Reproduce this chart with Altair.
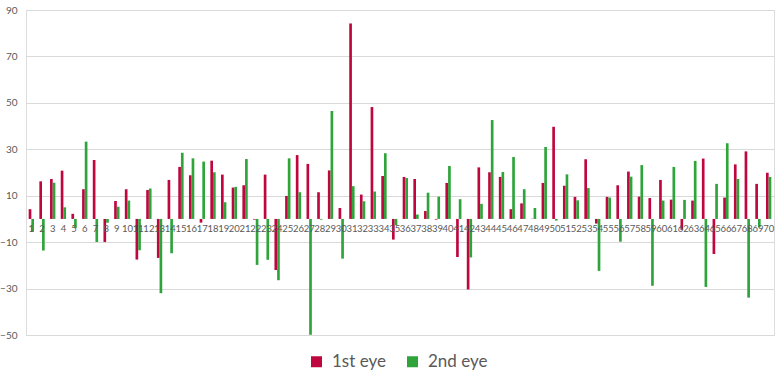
import altair as alt
import pandas as pd

categories = [str(i) for i in range(1, 71)]
series_names = ["1st eye", "2nd eye"]

first_eye = [4.2, 16.2, 17.2, 20.8, 2.2, 12.8, 25.4, -9.9, 7.7, 12.8,
             -17.5, 12.5, -16.8, 16.8, 22.4, 18.8, -1.6, 25.1, 19.1, 13.5,
             14.5, -0.3, 19.1, -22.0, 9.9, 27.5, 23.7, 11.5, 20.9, 4.7,
             84.2, 10.5, 48.2, 18.5, -8.9, 18.1, 17.2, 3.4, -0.3, 15.5,
             -16.4, -30.4, 22.2, 20.1, 18.1, 4.2, 6.7, 0.1, 15.5, 39.7,
             14.3, 9.5, 25.7, -2.0, 9.5, 14.5, 20.4, 9.6, 9.0, 16.8,
             8.3, -4.7, 7.9, 26.0, -15.1, 9.2, 23.5, 29.1, 15.1, 19.9]

second_eye = [-5.5, -13.6, 15.6, 5.0, -3.9, 33.3, -9.9, -1.6, 5.3, 7.9,
              -13.5, 13.1, -32.0, -14.8, 28.5, 26.1, 24.7, 20.1, 7.2, 13.8,
              25.8, -19.8, -17.6, -26.4, 26.1, 11.5, -49.9, -0.3, 46.5, -17.1,
              14.1, 7.6, 11.8, 28.3, -2.7, 17.6, 1.9, 11.3, 9.6, 22.8,
              8.5, -16.6, 6.5, 42.6, 20.2, 26.7, 12.8, 4.7, 31.0, -0.7,
              19.2, 8.0, 13.3, -22.4, 9.2, -9.8, 18.2, 23.2, -28.8, 7.9,
              22.4, 8.2, 25.0, -29.3, 15.1, 32.6, 17.2, -33.9, -3.6, 18.1]

y_ticks = [-50, -30, -10, 10, 30, 50, 70, 90]
colors = ["#C0063F", "#2EA43A"]

rows = []
for c, a, b in zip(categories, first_eye, second_eye):
    rows.append({"cat": c, "series": series_names[0], "value": a})
    rows.append({"cat": c, "series": series_names[1], "value": b})
df = pd.DataFrame(rows)
labels_df = pd.DataFrame({"cat": categories})

FONT = "Lato"

x_enc = alt.X("cat:N", sort=categories, axis=None,
              scale=alt.Scale(paddingInner=0.5, paddingOuter=0.25))
y_scale = alt.Scale(domain=[-50, 90], nice=False, zero=False)

bars = alt.Chart(df).mark_bar().encode(
    x=x_enc,
    xOffset=alt.XOffset("series:N", sort=series_names),
    y=alt.Y("value:Q", scale=y_scale, title=None,
            axis=alt.Axis(values=y_ticks, domain=False, ticks=False,
                          labelColor="#595959", labelFontSize=10,
                          labelFont=FONT, labelPadding=9,
                          gridColor="#D9D9D9", gridWidth=1)),
    color=alt.Color("series:N", sort=series_names,
                    scale=alt.Scale(domain=series_names, range=colors),
                    legend=alt.Legend(title=None, orient="none",
                                      direction="horizontal",
                                      legendX=282, legendY=343,
                                      symbolType="square", symbolSize=121,
                                      symbolStrokeWidth=0,
                                      labelFontSize=17, labelFont=FONT,
                                      labelColor="#595959",
                                      columnPadding=18, labelOffset=7)),
)

labels = alt.Chart(labels_df).mark_text(
    baseline="middle", align="center", dy=10, fontSize=9.5,
    font=FONT, color="#595959"
).encode(
    x=alt.X("cat:N", sort=categories, axis=None),
    y=alt.datum(0),
    text="cat:N",
)

chart = alt.layer(bars, labels).properties(
    width=748, height=325,
    padding={"left": 26, "top": 10, "right": 9, "bottom": 40},
    autosize=alt.AutoSizeParams(type="none"),
).configure_view(stroke=None).configure(background="white")

chart.save("out.html", embed_options={"renderer": "svg", "actions": False})
